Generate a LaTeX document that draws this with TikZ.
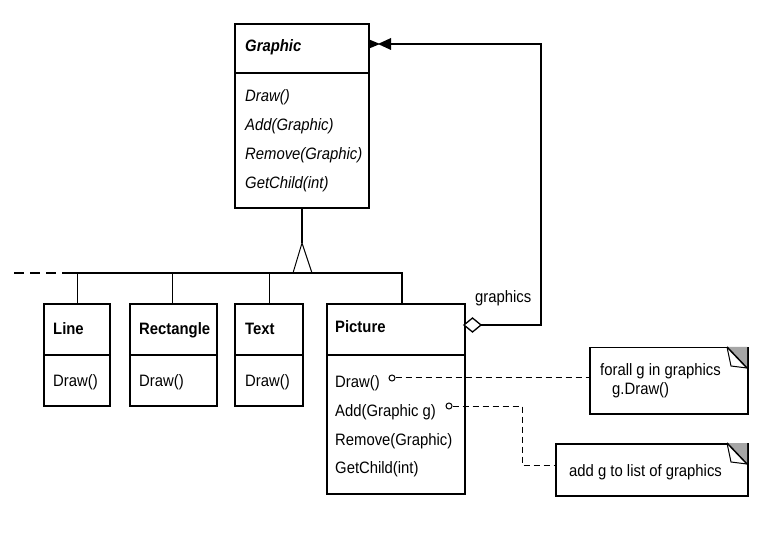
\documentclass[tikz,border=0pt]{standalone}
\usepackage{fontspec}
\setmainfont{Liberation Sans}[FakeStretch=0.9]
\begin{document}
\begin{tikzpicture}[x=1pt,y=-1pt,
  box/.style={draw,line width=1.8pt,anchor=north west,inner sep=0pt},
  div/.style={line width=1.8pt},
  heavy/.style={line width=1.8pt},
  light/.style={line width=1pt},
  dsh/.style={line width=1pt,dash pattern=on 6pt off 4pt},
  lbl/.style={anchor=base west,inner sep=0pt,font=\fontsize{16.5}{18}\selectfont},
  ttl/.style={lbl,font=\fontsize{16.5}{18}\selectfont\bfseries},
  itl/.style={lbl,font=\fontsize{16.5}{18}\selectfont\itshape},
  note/.style={draw,line width=1.5pt,anchor=north west,inner sep=0pt},
]
\useasboundingbox[fill=white] (0,0) rectangle (780,540);

% ---- Graphic
\node[box,minimum width=134pt,minimum height=184pt] (G) at (234,23) {};
\draw[div] (234,73) -- (368,73);
\node[ttl,font=\fontsize{16.5}{18}\selectfont\bfseries\itshape] (gt) at (245,52) {Graphic};
\node[itl] (g1) at (245,102) {Draw()};
\node[itl] (g2) at (245,131) {Add(Graphic)};
\node[itl] (g3) at (245,160) {Remove(Graphic)};
\node[itl] (g4) at (245,189) {GetChild(int)};

% ---- Line
\node[box,minimum width=66pt,minimum height=102pt] (L) at (43,303) {};
\draw[div] (43,355) -- (109,355);
\node[ttl] (lt) at (53,335) {Line};
\node[lbl] (l1) at (53,387) {Draw()};

% ---- Rectangle
\node[box,minimum width=87pt,minimum height=102pt] (R) at (129,303) {};
\draw[div] (129,355) -- (216,355);
\node[ttl] (rt) at (139,335) {Rectangle};
\node[lbl] (r1) at (139,387) {Draw()};

% ---- Text
\node[box,minimum width=68pt,minimum height=102pt] (T) at (234,303) {};
\draw[div] (234,355) -- (302,355);
\node[ttl] (tt) at (245,335) {Text};
\node[lbl] (t1) at (245,387) {Draw()};

% ---- Picture
\node[box,minimum width=138pt,minimum height=190pt] (P) at (326,303) {};
\draw[div] (326,355) -- (464,355);
\node[ttl] (pt) at (335,333) {Picture};
\node[lbl] (p1) at (335,388) {Draw()};
\node[lbl] (p2) at (335,417) {Add(Graphic g)};
\node[lbl] (p3) at (335,445) {Remove(Graphic)};
\node[lbl] (p4) at (335,473) {GetChild(int)};

% ---- inheritance
\coordinate (apex) at (302,243);
\coordinate (busL) at (62,273);
\coordinate (busR) at (402,273);
\coordinate (busD) at (14,273);
\draw[heavy] (G.south -| apex) -- (apex);
\draw[light] (293,273) -- (apex) -- (312,273);
\draw[heavy] (busL) -- (busR) -- (P.north -| busR);
\draw[heavy,dash pattern=on 10pt off 6pt] (busD) -- (busL);
\draw[light] (77,273) -- (L.north -| 77,0);
\draw[light] (172,273) -- (R.north -| 172,0);
\draw[light] (269,273) -- (T.north -| 269,0);

% ---- aggregation
\coordinate (dw) at (464,325);
\coordinate (de) at (481,325);
\draw[line width=1.3pt,fill=white] (dw) -- (472.5,318) -- (de) -- (472.5,332) -- cycle;
\coordinate (c1) at (541,325);
\coordinate (c2) at (541,44);
\coordinate (ge) at (391,44);
\draw[heavy] (de) -- (c1) -- (c2) -- (ge);
\fill (368,39) -- (380,44) -- (368,49) -- cycle;
\fill (391,38) -- (378,44) -- (391,50) -- cycle;
\node[lbl] (gl) at (475,303) {graphics};

% ---- notes
\node[note,minimum width=158pt,minimum height=66pt] (N1) at (589,347) {};
\fill[gray!70] (727,347) -- (747,347) -- (747,368) -- cycle;
\draw[line width=1.5pt] (727,347) -- (747,368);
\draw[light] (727,347) -- (731,366) -- (747,368);
\node[lbl] (n1a) at (600,376) {forall g in graphics};
\node[lbl] (n1b) at (612,395) {g.Draw()};

\node[note,minimum width=192pt,minimum height=52pt] (N2) at (555,443) {};
\fill[gray!70] (727,443) -- (747,443) -- (747,464) -- cycle;
\draw[line width=1.5pt] (727,443) -- (747,464);
\draw[light] (727,443) -- (731,462) -- (747,464);
\node[lbl] (n2a) at (569,476) {add g to list of graphics};

% ---- note links
\node[draw,circle,light,inner sep=0pt,minimum size=6pt] (o1) at (392,378) {};
\node[draw,circle,light,inner sep=0pt,minimum size=6pt] (o2) at (449,406) {};
\draw[dsh] (o1.east) -- (N1.west |- o1);
\coordinate (k1) at (522,406);
\coordinate (k2) at (522,465);
\draw[dsh] (o2.east) -- (k1) -- (k2) -- (N2.west |- k2);
\end{tikzpicture}
\end{document}
